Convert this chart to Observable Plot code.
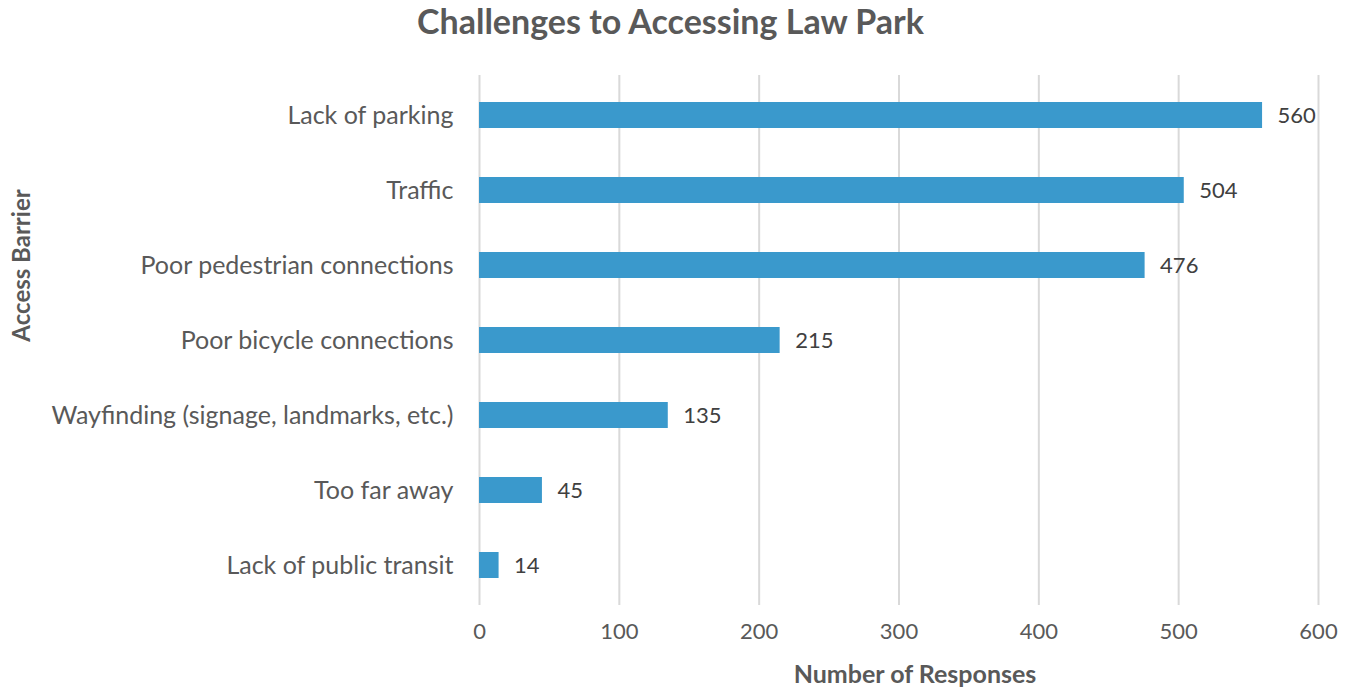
<!DOCTYPE html>
<html>
<head>
<meta charset="utf-8">
<script src="https://cdn.jsdelivr.net/npm/d3@7"></script>
<script src="https://cdn.jsdelivr.net/npm/@observablehq/plot@0.6"></script>
<style>
  body { margin: 0; background: #fff; font-family: Lato, "Open Sans", sans-serif; }
  #title { height: 50px; line-height: 42px; text-align: center; font-size: 34px; font-weight: bold; color: #595959; padding-right: 12px; }
</style>
</head>
<body>
<div id="title">Challenges to Accessing Law Park</div>
<div id="chart"></div>
<script>
const categories = ["Lack of parking", "Traffic", "Poor pedestrian connections", "Poor bicycle connections", "Wayfinding (signage, landmarks, etc.)", "Too far away", "Lack of public transit"];
const responses = [560, 504, 476, 215, 135, 45, 14];
const xTicks = [0, 100, 200, 300, 400, 500, 600];
const xLabel = "Number of Responses";
const yLabel = "Access Barrier";

const data = categories.map((c, i) => ({barrier: c, count: responses[i]}));

const chart = Plot.plot({
  width: 1353,
  height: 639,
  marginTop: 25,
  marginBottom: 84,
  marginLeft: 479,
  marginRight: 35,
  style: {fontFamily: "Lato, 'Open Sans', sans-serif", color: "#595959", background: "#fff"},
  x: {domain: [0, 600]},
  y: {domain: categories, paddingInner: 0.65, paddingOuter: 0.325},
  marks: [
    Plot.gridX(xTicks, {stroke: "#d9d9d9", strokeWidth: 2, strokeOpacity: 1}),
    Plot.barX(data, {x: "count", y: "barrier", fill: "#3a99cc"}),
    Plot.text(data, {x: "count", y: "barrier", text: d => String(d.count), textAnchor: "start", dx: 15, fontSize: 22, fill: "#404040"}),
    Plot.axisX({ticks: xTicks, tickSize: 0, tickPadding: 18, fontSize: 22, label: null}),
    Plot.axisY({tickSize: 0, tickPadding: 26, fontSize: 25, label: null}),
    Plot.text([xLabel], {frameAnchor: "bottom", dy: 77, dx: 16, fontSize: 25, fontWeight: "bold", fill: "#595959"}),
    Plot.text([yLabel], {frameAnchor: "left", textAnchor: "middle", rotate: -90, dx: -457, dy: -75, fontSize: 24, fontWeight: "bold", fill: "#595959"})
  ]
});
document.getElementById("chart").appendChild(chart);
</script>
</body>
</html>
